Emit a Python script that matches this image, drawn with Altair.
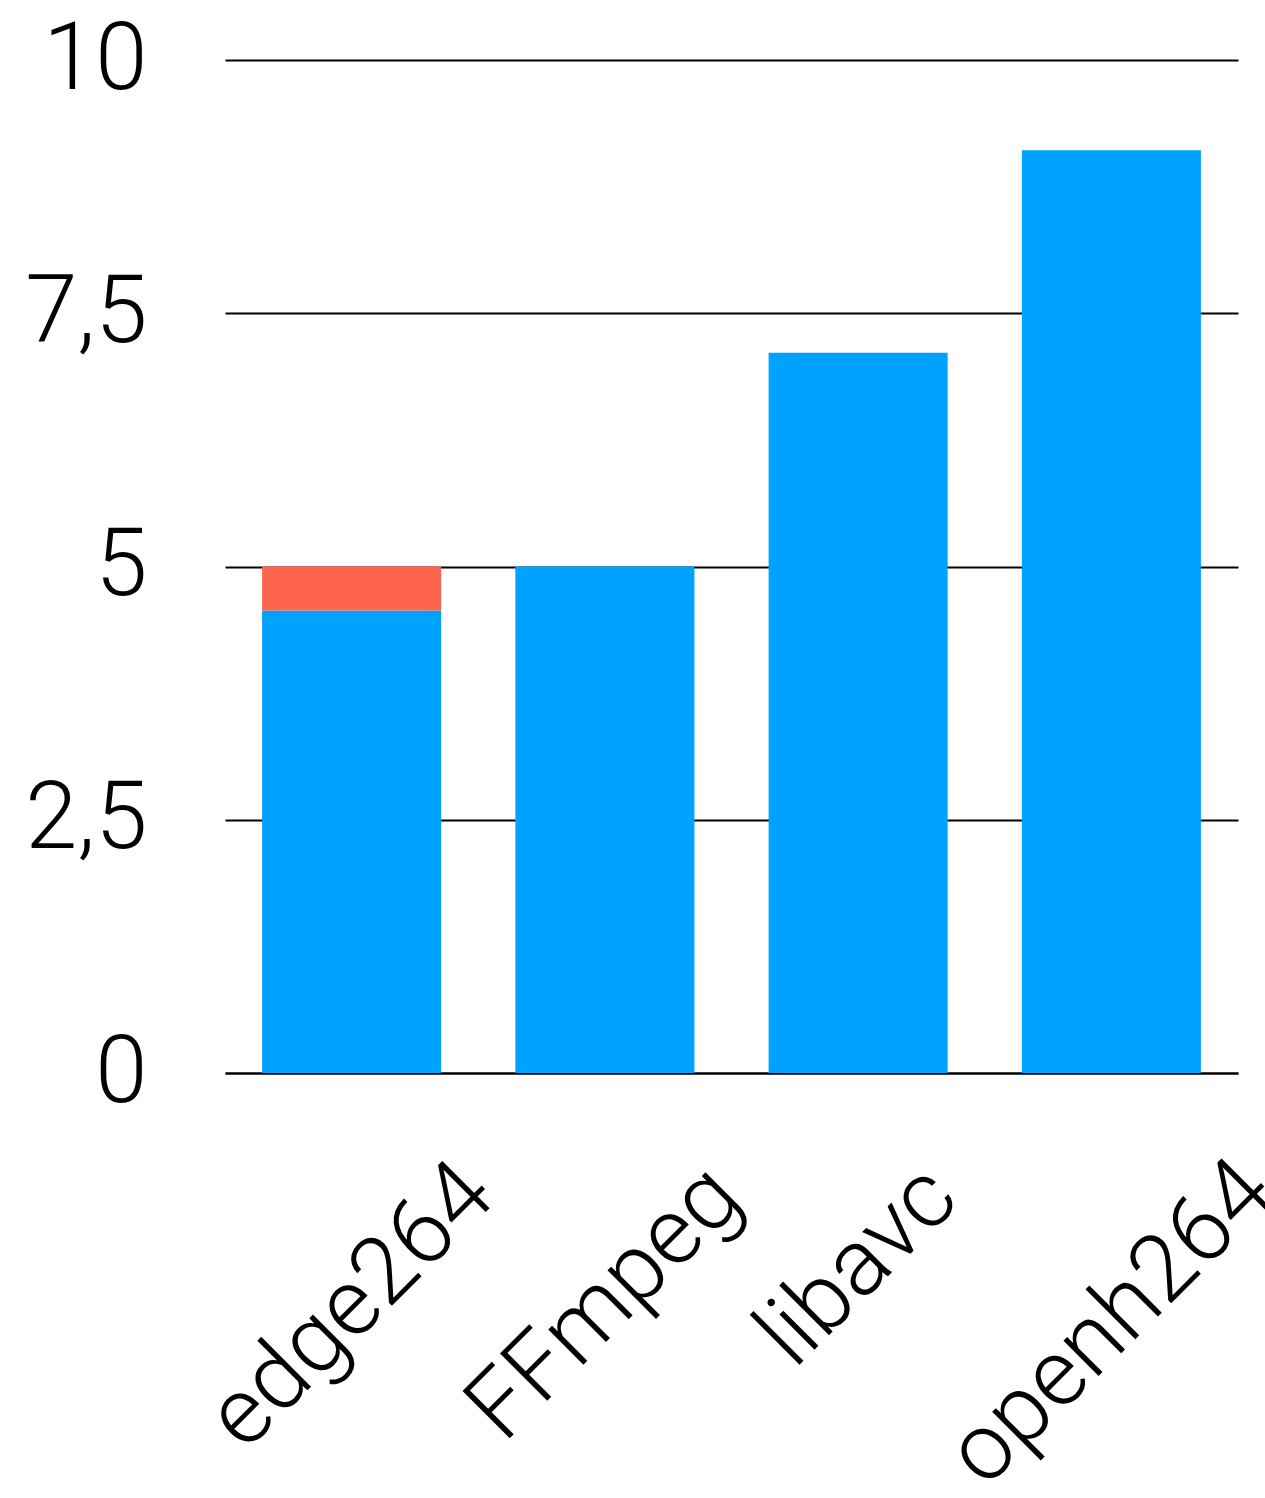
import altair as alt
import pandas as pd

categories = ["edge264", "FFmpeg", "libavc", "openh264"]
base_values = [4.565, 5.0, 7.11, 9.11]
extra_values = [0.435, 0.0, 0.0, 0.0]
y_ticks = [0, 2.5, 5, 7.5, 10]
# distance from the baseline to the centre of each rotated label
label_center_offsets = [233, 230, 193, 250]

rows = []
for c, b, e in zip(categories, base_values, extra_values):
    rows.append({"decoder": c, "part": "base", "order": 0, "value": b})
    rows.append({"decoder": c, "part": "extra", "order": 1, "value": e})
df = pd.DataFrame(rows)

pad_expr = " : ".join(
    f"datum.value == '{c}' ? {p}" for c, p in zip(categories, label_center_offsets)
) + " : 230"

FONT = "Roboto"
WEIGHT = 300

chart = alt.Chart(df).mark_bar().encode(
    x=alt.X(
        "decoder:N",
        sort=categories,
        scale=alt.Scale(paddingInner=0.293, paddingOuter=0.1465),
        axis=alt.Axis(
            title=None,
            labelAngle=-45,
            labelAlign="center",
            labelBaseline="middle",
            labelPadding=alt.ExprRef(expr=pad_expr),
            ticks=False,
            tickSize=0,
            domain=True,
            domainColor="black",
            domainWidth=2,
            labelFont=FONT,
            labelFontWeight=WEIGHT,
            labelFontSize=94,
            labelColor="black",
            labelLimit=1000,
            labelOverlap=False,
            labelBound=False,
            labelFlush=False,
        ),
    ),
    y=alt.Y(
        "value:Q",
        stack="zero",
        scale=alt.Scale(domain=[0, 10], nice=False),
        axis=alt.Axis(
            title=None,
            values=y_ticks,
            labelExpr="replace(toString(datum.value), '.', ',')",
            ticks=False,
            tickSize=0,
            domain=False,
            grid=True,
            gridColor="black",
            gridWidth=2,
            labelFont=FONT,
            labelFontWeight=WEIGHT,
            labelFontSize=94,
            labelColor="black",
            labelPadding=78,
            labelBaseline="middle",
            labelLimit=1000,
            labelFlush=False,
            labelOverlap=False,
        ),
    ),
    color=alt.Color(
        "part:N",
        scale=alt.Scale(domain=["base", "extra"], range=["#00A2FF", "#FF644E"]),
        legend=None,
    ),
    order=alt.Order("order:Q"),
).properties(
    width=1013,
    height=1013,
    background="white",
    autosize=alt.AutoSizeParams(type="none"),
    padding={"left": 225, "top": 60, "right": 27, "bottom": 425},
).configure_view(stroke=None)

chart.save("out.html", embed_options={"renderer": "svg", "actions": False})
